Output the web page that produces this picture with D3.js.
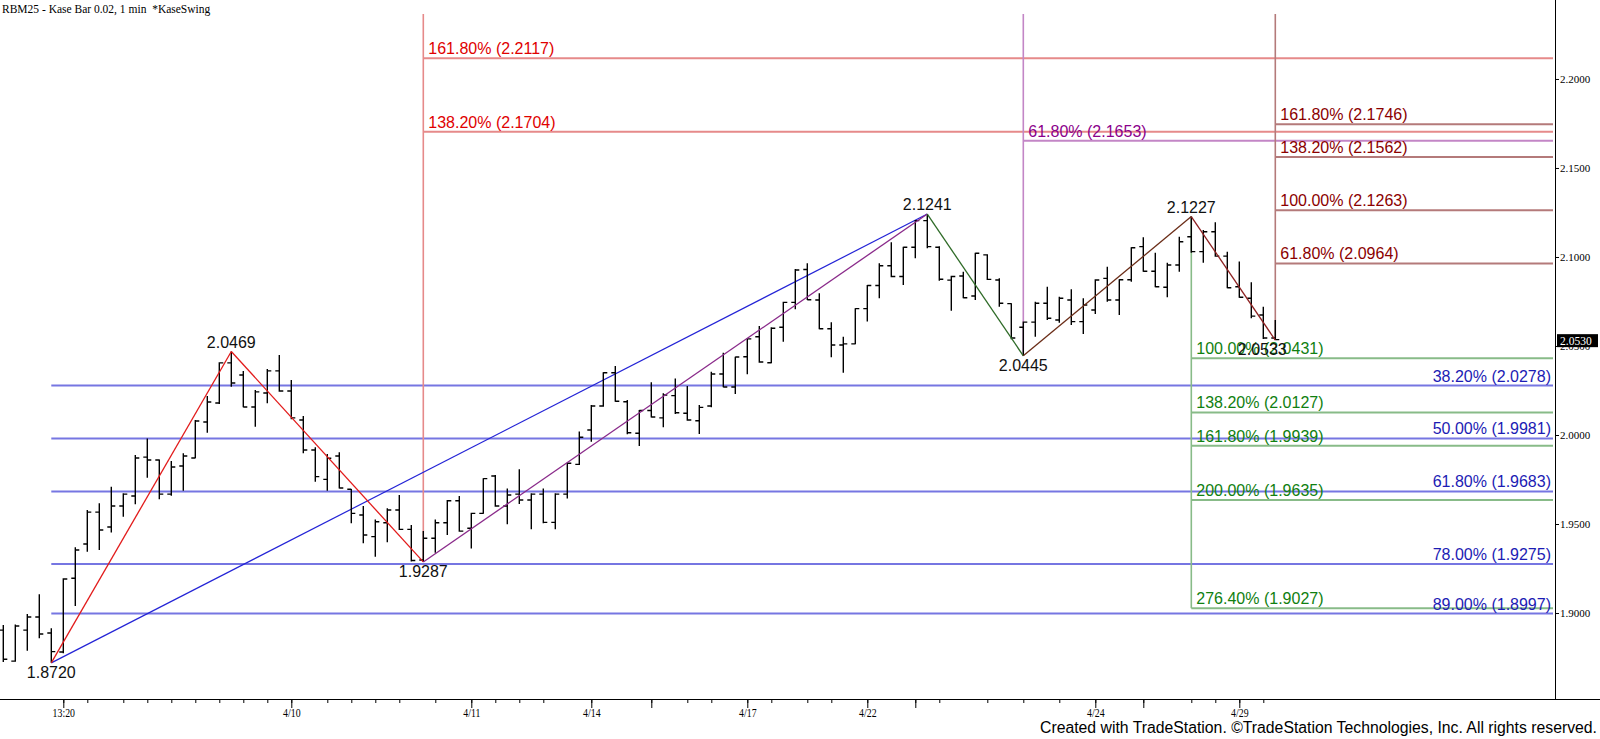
<!DOCTYPE html>
<html lang="en">
<head>
<meta charset="UTF-8">
<title>RBM25 - Kase Bar 0.02</title>
<style>
	body { margin: 0; background: #fff; }
	svg { display: block; }
</style>
</head>
<body>
<script src="https://d3js.org/d3.v7.min.js"></script>
<script type="text/javascript">
	var width = 1600;
	var height = 739;

	// OHLC per bar (bar index 0..106)
	var opens  = [1.8904,1.8730,1.8904,1.8978,1.8888,1.8781,1.9195,1.9388,1.9567,1.9483,
	              1.9601,1.9657,1.9876,1.9860,1.9668,1.9826,1.9871,2.0073,2.0180,2.0405,
	              2.0337,2.0157,2.0236,2.0360,2.0247,2.0084,1.9916,1.9751,1.9882,1.9695,
	              1.9551,1.9429,1.9507,1.9579,1.9470,1.9298,1.9420,1.9507,1.9631,1.9476,
	              1.9560,1.9770,1.9601,1.9668,1.9635,1.9668,1.9509,1.9668,1.9835,2.0028,
	              2.0163,2.0350,2.0187,2.0010,2.0138,2.0096,2.0221,2.0122,2.0080,2.0163,
	              2.0343,2.0270,2.0440,2.0552,2.0406,2.0605,2.0745,2.0930,2.0758,2.0597,
	              2.0506,2.0512,2.0710,2.0840,2.0951,2.0890,2.1055,2.1204,2.1055,2.0870,
	              2.0893,2.0781,2.1012,2.0871,2.0738,2.0605,2.0634,2.0740,2.0646,2.0758,
	              2.0637,2.0702,2.0880,2.0758,2.0872,2.1058,2.0920,2.0830,2.0955,2.1114,
	              2.1030,2.1142,2.1005,2.0833,2.0768,2.0674,2.0545];
	var highs  = [1.8933,1.8936,1.8994,1.9105,1.8914,1.9195,1.9369,1.9579,1.9616,1.9710,
	              1.9673,1.9888,1.9981,1.9862,1.9854,1.9897,2.0084,2.0219,2.0408,2.0469,
	              2.0360,2.0253,2.0371,2.0449,2.0309,2.0107,1.9931,1.9893,1.9903,1.9697,
	              1.9601,1.9526,1.9588,1.9663,1.9494,1.9461,1.9526,1.9635,1.9657,1.9563,
	              1.9757,1.9775,1.9700,1.9807,1.9673,1.9700,1.9673,1.9844,2.0019,2.0169,
	              2.0352,2.0388,2.0197,2.0140,2.0296,2.0234,2.0318,2.0275,2.0169,2.0356,
	              2.0462,2.0440,2.0543,2.0612,2.0605,2.0749,2.0933,2.0965,2.0796,2.0633,
	              2.0552,2.0712,2.0843,2.0965,2.1083,2.1058,2.1208,2.1241,2.1060,2.0895,
	              2.0917,2.1024,2.1015,2.0880,2.0740,2.0637,2.0749,2.0833,2.0777,2.0819,
	              2.0768,2.0875,2.0945,2.0875,2.1055,2.1111,2.1024,2.0968,2.1114,2.1227,
	              2.1152,2.1195,2.1030,2.0974,2.0858,2.0721,2.0646];
	var lows   = [1.8725,1.8726,1.8788,1.8858,1.8720,1.8774,1.9039,1.9344,1.9354,1.9453,
	              1.9541,1.9611,1.9760,1.9639,1.9659,1.9687,1.9869,2.0013,2.0174,2.0271,
	              2.0156,2.0047,2.0178,2.0243,2.0088,1.9897,1.9738,1.9687,1.9700,1.9504,
	              1.9392,1.9316,1.9397,1.9466,1.9290,1.9287,1.9339,1.9438,1.9457,1.9363,
	              1.9558,1.9597,1.9498,1.9612,1.9470,1.9504,1.9470,1.9644,1.9831,1.9962,
	              2.0159,2.0187,2.0004,1.9938,2.0099,2.0043,2.0118,2.0080,2.0005,2.0156,
	              2.0268,2.0230,2.0341,2.0406,2.0403,2.0524,2.0706,2.0758,2.0594,2.0437,
	              2.0350,2.0510,2.0637,2.0768,2.0886,2.0843,2.0993,2.1049,2.0867,2.0698,
	              2.0768,2.0758,2.0871,2.0721,2.0538,2.0445,2.0552,2.0646,2.0631,2.0618,
	              2.0567,2.0680,2.0749,2.0674,2.0861,2.0917,2.0830,2.0774,2.0917,2.1024,
	              2.0968,2.1002,2.0824,2.0771,2.0656,2.0540,2.0533];
	var closes = [1.8740,1.8927,1.8978,1.8882,1.8783,1.9191,1.9354,1.9567,1.9466,1.9601,
	              1.9668,1.9871,1.9860,1.9668,1.9820,1.9882,2.0079,2.0185,2.0405,2.0292,
	              2.0157,2.0242,2.0360,2.0247,2.0096,1.9916,1.9766,1.9869,1.9702,1.9560,
	              1.9438,1.9513,1.9579,1.9470,1.9295,1.9420,1.9507,1.9631,1.9460,1.9560,
	              1.9755,1.9601,1.9663,1.9635,1.9668,1.9509,1.9668,1.9841,1.9987,2.0163,
	              2.0350,2.0190,2.0013,2.0138,2.0101,2.0225,2.0125,2.0084,2.0155,2.0343,
	              2.0270,2.0438,2.0540,2.0410,2.0600,2.0745,2.0927,2.0760,2.0597,2.0506,
	              2.0512,2.0710,2.0840,2.0951,2.0890,2.1055,2.1204,2.1058,2.0875,2.0890,
	              2.0771,2.1021,2.0874,2.0740,2.0545,2.0634,2.0740,2.0656,2.0768,2.0637,
	              2.0730,2.0871,2.0758,2.0872,2.1052,2.0920,2.0833,2.0955,2.1086,2.1030,
	              2.1142,2.1005,2.0827,2.0774,2.0668,2.0545,2.0536];

	// KaseSwing pivots
	var pivotIdx = [4, 19, 35, 77, 85, 99, 106];
	var pivotVal = [1.8720, 2.0469, 1.9287, 2.1241, 2.0445, 2.1227, 2.0533];
	var swingColors = ["#e21b1b", "#e21b1b", "#8a2a8a", "#2f6b28", "#6b2d18", "#8e2222"];

	// time axis
	var dateTicks = [5,7,10,12,14,16,18,20,22,24,27,29,31,33,36,39,41,43,45,49,54,57,59,62,64,
	                 67,69,72,76,78,82,85,88,91,95,99,101,103,105];
	var dateLabelIdx = [5, 24, 39, 49, 62, 72, 91, 103];
	var dateLabels = ["13:20", "4/10", "4/11", "4/14", "4/17", "4/22", "4/24", "4/29"];
	var breakTicks = [54, 76, 95];

	var priceTicks = [1.90, 1.95, 2.00, 2.05, 2.10, 2.15, 2.20];
	var lastPrice = 2.0530;

	// fib levels
	var redPct = ["161.80%", "138.20%"];
	var redVal = [2.2117, 2.1704];
	var purplePct = ["61.80%"];
	var purpleVal = [2.1653];
	var maroonPct = ["161.80%", "138.20%", "100.00%", "61.80%"];
	var maroonVal = [2.1746, 2.1562, 2.1263, 2.0964];
	var greenPct = ["100.00%", "138.20%", "161.80%", "200.00%", "276.40%"];
	var greenVal = [2.0431, 2.0127, 1.9939, 1.9635, 1.9027];
	var bluePct = ["38.20%", "50.00%", "61.80%", "78.00%", "89.00%"];
	var blueVal = [2.0278, 1.9981, 1.9683, 1.9275, 1.8997];

	var plot = {top: 14, bottom: 699, right: 1555};

	var svg = d3.select("body").append("svg").attr("width", width).attr("height", height);

	var x = d3.scaleLinear().domain([0, 106]).range([3.3, 1275.3]);
	var y = d3.scaleLinear().domain([1.8517, 2.2365]).range([plot.bottom, plot.top]);

	var fibSets = [
		{pct: bluePct, val: blueVal, from: 4, line: "#7676e2", text: "#1c1cb4", right: true},
		{pct: redPct, val: redVal, from: 35, line: "#e68a8a", text: "#e00000",
		 vTop: null, vBottom: 1.9287},
		{pct: purplePct, val: purpleVal, from: 85, line: "#c386c6", text: "#8b008b",
		 vTop: null, vBottom: 2.0445},
		{pct: maroonPct, val: maroonVal, from: 106, line: "#b47a7a", text: "#8b0000",
		 vTop: null, vBottom: 2.0533},
		{pct: greenPct, val: greenVal, from: 99, line: "#88bb88", text: "#108010",
		 vTop: 2.1227, vBottom: 1.9027}
	];

	// horizontal fib lines
	fibSets.forEach(function(s) {
		svg.append("g").selectAll("line")
			.data(s.val)
			.enter()
			.append("line")
			.attr("x1", x(s.from))
			.attr("x2", plot.right - 2)
			.attr("y1", function(d){ return y(d); })
			.attr("y2", function(d){ return y(d); })
			.attr("stroke", s.line)
			.attr("stroke-width", 2);
	});

	// vertical anchors
	fibSets.forEach(function(s) {
		if (s.vBottom === undefined) return;
		svg.append("line")
			.attr("x1", x(s.from)).attr("x2", x(s.from))
			.attr("y1", s.vTop === null ? plot.top : y(s.vTop))
			.attr("y2", y(s.vBottom))
			.attr("stroke", s.line)
			.attr("stroke-width", 1.6);
	});

	// trend line from the first low to the main high
	svg.append("line")
		.attr("x1", x(pivotIdx[0])).attr("y1", y(pivotVal[0]))
		.attr("x2", x(pivotIdx[3])).attr("y2", y(pivotVal[3]))
		.attr("stroke", "#2424d6")
		.attr("stroke-width", 1.2);

	// OHLC bars
	svg.append("g").selectAll("path")
		.data(d3.range(opens.length))
		.enter()
		.append("path")
		.attr("d", function(i){
			var xi = x(i);
			return "M" + xi + "," + y(highs[i]) + "V" + y(lows[i]) +
				"M" + (xi - 4) + "," + y(opens[i]) + "H" + xi +
				"M" + xi + "," + y(closes[i]) + "H" + (xi + 4);
		})
		.attr("fill", "none")
		.attr("stroke", "#000")
		.attr("stroke-width", 1.4);

	// swing zigzag
	svg.append("g").selectAll("line")
		.data(d3.range(pivotIdx.length - 1))
		.enter()
		.append("line")
		.attr("x1", function(k){ return x(pivotIdx[k]); })
		.attr("y1", function(k){ return y(pivotVal[k]); })
		.attr("x2", function(k){ return x(pivotIdx[k + 1]); })
		.attr("y2", function(k){ return y(pivotVal[k + 1]); })
		.attr("stroke", function(k){ return swingColors[k]; })
		.attr("stroke-width", 1.3);

	// fib labels
	fibSets.forEach(function(s) {
		svg.append("g").selectAll("text")
			.data(s.val)
			.enter()
			.append("text")
			.attr("x", s.right ? plot.right - 4 : x(s.from) + 5)
			.attr("y", function(d){ return y(d) - 4; })
			.attr("text-anchor", s.right ? "end" : "start")
			.attr("font-family", "'Liberation Sans', Arial, sans-serif")
			.attr("font-size", 16)
			.attr("fill", s.text)
			.text(function(d, i){ return s.pct[i] + " (" + d.toFixed(4) + ")"; });
	});

	// pivot labels (alternating low / high)
	svg.append("g").selectAll("text")
		.data(d3.range(pivotIdx.length))
		.enter()
		.append("text")
		.attr("x", function(k){ return x(pivotIdx[k]) + (k === pivotIdx.length - 1 ? -13 : 0); })
		.attr("y", function(k){ return k % 2 === 0 ? y(pivotVal[k]) + 15 : y(pivotVal[k]) - 4; })
		.attr("text-anchor", "middle")
		.attr("font-family", "'Liberation Sans', Arial, sans-serif")
		.attr("font-size", 16)
		.attr("fill", "#111")
		.text(function(k){ return pivotVal[k].toFixed(4); });

	// x axis: short ticks
	var xAxisMinor = d3.axisBottom(x).tickValues(dateTicks).tickSize(4).tickSizeOuter(0).tickFormat("");
	svg.append("g")
		.attr("transform", "translate(0," + plot.bottom + ")")
		.call(xAxisMinor)
		.call(function(g){ g.select(".domain").remove(); });

	// x axis: long ticks with dates
	var xAxis = d3.axisBottom(x).tickValues(dateLabelIdx.concat(breakTicks)).tickSize(9).tickSizeOuter(0)
		.tickPadding(0)
		.tickFormat(function(d){ var k = dateLabelIdx.indexOf(d); return k < 0 ? "" : dateLabels[k]; });
	var xg = svg.append("g")
		.attr("transform", "translate(0," + plot.bottom + ")")
		.call(xAxis)
		.call(function(g){ g.select(".domain").remove(); });
	xg.selectAll("text")
		.attr("font-family", "'Liberation Serif', 'Times New Roman', serif")
		.attr("font-size", 12)
		.attr("fill", "#000")
		.attr("transform", "scale(0.82,1)");

	svg.append("line")
		.attr("x1", 0).attr("x2", width)
		.attr("y1", plot.bottom + 0.5).attr("y2", plot.bottom + 0.5)
		.attr("stroke", "#000").attr("stroke-width", 1);

	// price axis
	var yAxis = d3.axisRight(y).tickValues(priceTicks).tickSize(4).tickPadding(1)
		.tickFormat(d3.format(".4f"));
	var yg = svg.append("g")
		.attr("transform", "translate(" + plot.right + ",0)")
		.call(yAxis)
		.call(function(g){ g.select(".domain").remove(); });
	yg.selectAll("text")
		.attr("font-family", "'Liberation Serif', 'Times New Roman', serif")
		.attr("font-size", 11)
		.attr("fill", "#000");

	svg.append("line")
		.attr("x1", plot.right + 0.5).attr("x2", plot.right + 0.5)
		.attr("y1", 0).attr("y2", plot.bottom)
		.attr("stroke", "#000").attr("stroke-width", 1);

	// last price marker
	svg.append("rect")
		.attr("x", plot.right + 2).attr("y", y(lastPrice) - 6.5)
		.attr("width", 41).attr("height", 13)
		.attr("fill", "#000");
	svg.append("text")
		.attr("x", plot.right + 5).attr("y", y(lastPrice) + 4)
		.attr("font-family", "'Liberation Serif', 'Times New Roman', serif")
		.attr("font-size", 11.5)
		.attr("fill", "#fff")
		.text(lastPrice.toFixed(4));

	// title
	svg.append("text")
		.attr("x", 2).attr("y", 13)
		.attr("font-family", "'Liberation Serif', 'Times New Roman', serif")
		.attr("font-size", 11.5)
		.attr("fill", "#000")
		.attr("xml:space", "preserve")
		.text("RBM25 - Kase Bar 0.02, 1 min  *KaseSwing");

	// credit
	svg.append("text")
		.attr("x", 1040).attr("y", 733)
		.attr("font-family", "'Liberation Sans', Arial, sans-serif")
		.attr("font-size", 16)
		.attr("fill", "#000")
		.attr("textLength", 557)
		.attr("lengthAdjust", "spacingAndGlyphs")
		.text("Created with TradeStation. ©TradeStation Technologies, Inc. All rights reserved.");
</script>
</body>
</html>
